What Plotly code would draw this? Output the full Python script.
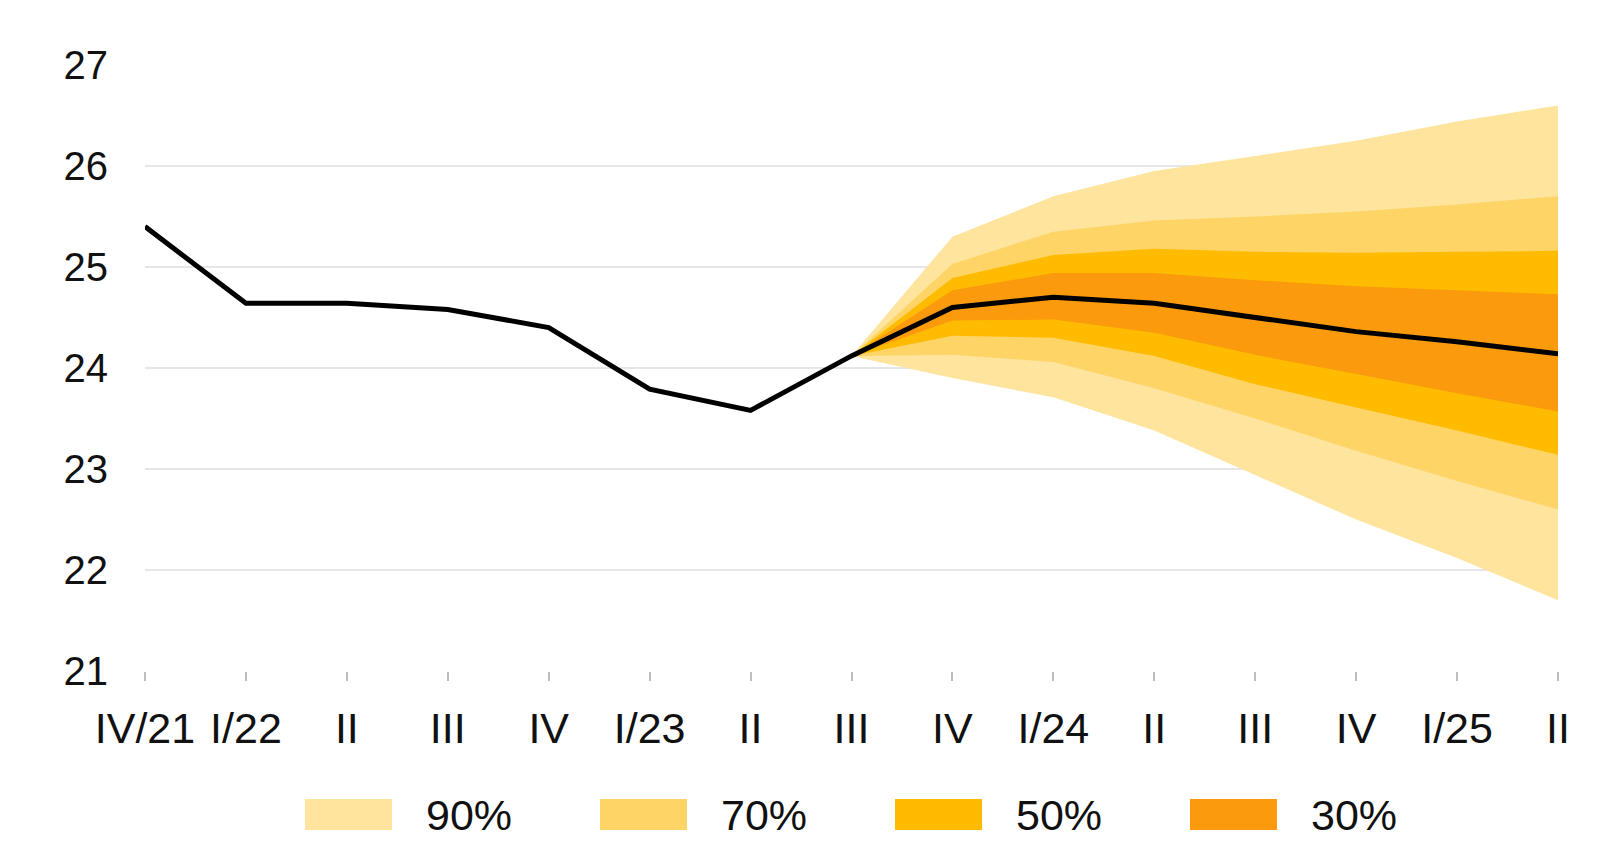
import plotly.graph_objects as go

quarters = ["IV/21", "I/22", "II", "III", "IV", "I/23", "II", "III",
            "IV", "I/24", "II", "III", "IV", "I/25", "II"]
central = [25.40, 24.64, 24.64, 24.58, 24.40, 23.79, 23.58, 24.12,
           24.60, 24.70, 24.64, 24.50, 24.36, 24.26, 24.14]

# fan bands start at III/23 (index 7)
fan_start = 7
upper90 = [24.12, 25.30, 25.70, 25.95, 26.10, 26.25, 26.44, 26.60]
upper70 = [24.12, 25.03, 25.35, 25.46, 25.50, 25.55, 25.62, 25.70]
upper50 = [24.12, 24.89, 25.12, 25.18, 25.15, 25.14, 25.15, 25.16]
upper30 = [24.12, 24.77, 24.94, 24.94, 24.87, 24.81, 24.77, 24.73]
lower30 = [24.12, 24.47, 24.48, 24.35, 24.13, 23.94, 23.75, 23.57]
lower50 = [24.12, 24.32, 24.30, 24.12, 23.84, 23.61, 23.38, 23.14]
lower70 = [24.12, 24.13, 24.06, 23.80, 23.50, 23.18, 22.88, 22.60]
lower90 = [24.12, 23.90, 23.71, 23.38, 22.94, 22.50, 22.12, 21.70]

band_labels = ["90%", "70%", "50%", "30%"]
band_colors = ["#fee49d", "#fed466", "#ffbb00", "#fa9a0c"]
bands = [(upper90, lower90), (upper70, lower70), (upper50, lower50), (upper30, lower30)]

FONT = "Liberation Sans, Arial, sans-serif"
xs = list(range(len(quarters)))
fx = xs[fan_start:]

fig = go.Figure()
for (up, lo), col, lab in zip(bands, band_colors, band_labels):
    fig.add_trace(go.Scatter(
        x=fx + fx[::-1], y=up + lo[::-1], fill="toself", mode="none",
        fillcolor=col, name=lab, showlegend=False, hoverinfo="skip"))

fig.add_trace(go.Scatter(x=xs, y=central, mode="lines",
                         line=dict(color="#000000", width=5),
                         showlegend=False))

# legend drawn as swatches + labels in paper coordinates
shapes = []
annotations = []
W, H = 1617, 865
ml, mt = 137, 57
pw, ph = 1413, 606
mr, mb = W - ml - pw, H - mt - ph
swatch_x0 = [297, 592, 887, 1182]
for x0, col, lab in zip(swatch_x0, band_colors, band_labels):
    shapes.append(dict(type="rect", xref="paper", yref="paper",
                       x0=(x0 - ml) / pw, x1=(x0 + 87 - ml) / pw,
                       y0=(H - 822 - mb) / ph, y1=(H - 791 - mb) / ph,
                       fillcolor=col, line=dict(width=0)))
    annotations.append(dict(xref="paper", yref="paper",
                            x=(x0 + 119 - ml) / pw, y=(H - 807 - mb) / ph,
                            text=lab, showarrow=False, xanchor="left",
                            yanchor="middle",
                            font=dict(family=FONT, size=43, color="#111111")))

fig.update_layout(
    width=W, height=H,
    margin=dict(l=ml, r=mr, t=mt, b=mb),
    plot_bgcolor="white", paper_bgcolor="white",
    showlegend=False,
    shapes=shapes, annotations=annotations,
    font=dict(family=FONT, size=40, color="#111111"),
)
fig.update_xaxes(range=[0, len(quarters) - 1], tickmode="array",
                 tickvals=xs, ticktext=quarters, showgrid=False,
                 zeroline=False, showline=False,
                 ticks="outside", ticklen=9, tickwidth=1.5,
                 tickcolor="#bdbdbd", ticklabelstandoff=10,
                 tickfont=dict(family=FONT, size=43, color="#111111"))
fig.update_yaxes(range=[21, 27], tickmode="array",
                 tickvals=[21, 22, 23, 24, 25, 26, 27],
                 showgrid=True, gridcolor="#e6e6e6", gridwidth=2,
                 zeroline=False, showline=False, ticks="",
                 ticklabelstandoff=36,
                 tickfont=dict(family=FONT, size=40, color="#111111"))

fig.write_html("out.html")
